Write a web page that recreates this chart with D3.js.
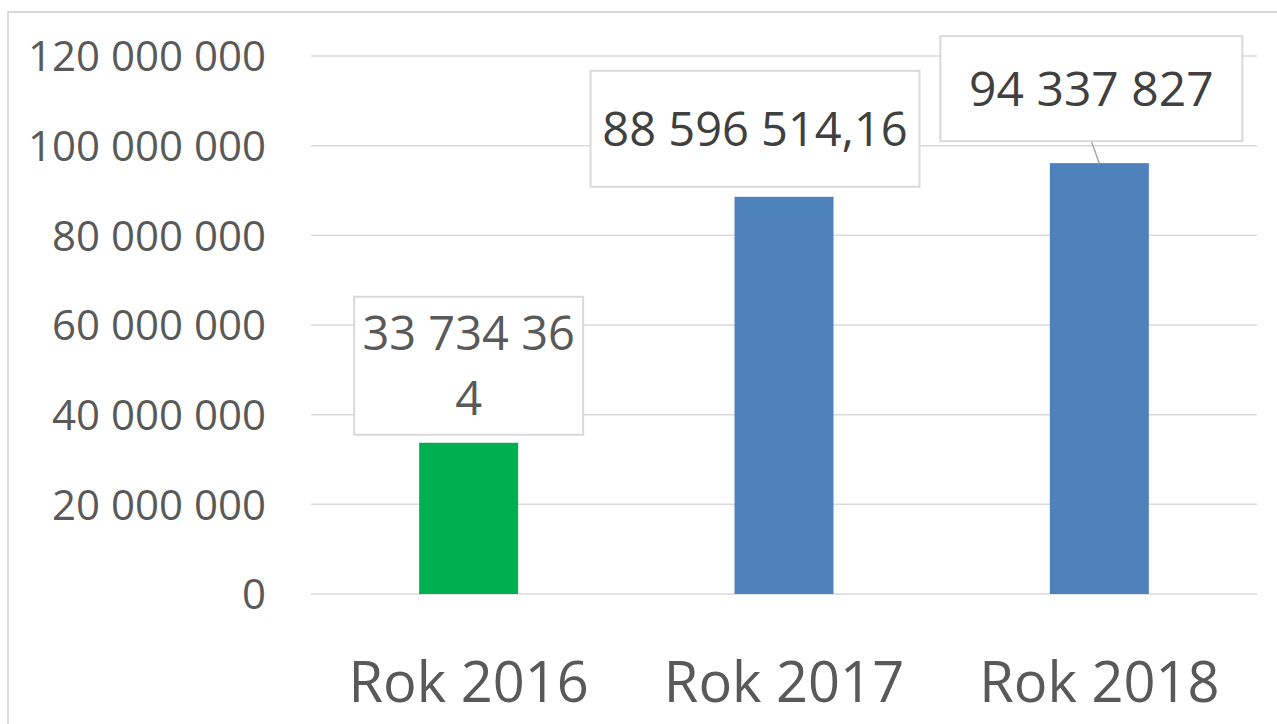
<!DOCTYPE html>
<html>
<head>
<meta charset="utf-8">
<script src="https://cdn.jsdelivr.net/npm/d3@7"></script>
<style>
  html, body { margin: 0; padding: 0; background: #fff; }
  svg { display: block; }
  text { font-family: "Open Sans", "Noto Sans", sans-serif; }
</style>
</head>
<body>
<script>
// ---- data ----
const categories = ["Rok 2016", "Rok 2017", "Rok 2018"];
const values = [33734364, 88596514.16, 96100000];
const labelLines = [["33 734 36", "4"], ["88 596 514,16"], ["94 337 827"]];
const barColors = ["#00B050", "#4F81BD", "#4F81BD"];
const yTicks = [0, 20000000, 40000000, 60000000, 80000000, 100000000, 120000000];
const yTickLabels = ["0", "20 000 000", "40 000 000", "60 000 000", "80 000 000", "100 000 000", "120 000 000"];

// ---- layout ----
const W = 1277, H = 724;
const plot = { left: 311, right: 1257, top: 56, bottom: 594 };

const svg = d3.select("body").append("svg").attr("width", W).attr("height", H);

// chart border (only left and top visible)
svg.append("rect")
  .attr("x", 8).attr("y", 12).attr("width", 1400).attr("height", 900)
  .attr("fill", "none").attr("stroke", "#d9d9d9").attr("stroke-width", 2);

const x = d3.scaleBand().domain(categories)
  .range([plot.left, plot.right]).paddingInner(0.686).paddingOuter(0.343);
const y = d3.scaleLinear().domain([0, 120000000]).range([plot.bottom, plot.top]);

// gridlines
svg.append("g").selectAll("line").data(yTicks).join("line")
  .attr("x1", plot.left).attr("x2", plot.right)
  .attr("y1", d => y(d)).attr("y2", d => y(d))
  .attr("stroke", "#d9d9d9").attr("stroke-width", 1.5);

// y axis labels
const yAxis = d3.axisLeft(y).tickValues(yTicks)
  .tickFormat((d, i) => yTickLabels[i]).tickSize(0).tickPadding(0);
const gy = svg.append("g").attr("transform", "translate(266,0)").call(yAxis);
gy.select(".domain").remove();
gy.selectAll("text")
  .attr("font-size", 42).attr("fill", "#595959")
  .attr("font-family", "'Open Sans', sans-serif")
  .attr("dy", "0.35em");

// x axis labels
const xAxis = d3.axisBottom(x).tickSize(0).tickPadding(0);
const gx = svg.append("g").attr("transform", `translate(0,${plot.bottom})`).call(xAxis);
gx.select(".domain").remove();
gx.selectAll("text")
  .attr("font-size", 56).attr("fill", "#595959")
  .attr("font-family", "'Open Sans', sans-serif")
  .attr("y", 108).attr("dy", 0);

// bars
svg.append("g").selectAll("rect").data(categories).join("rect")
  .attr("x", d => x(d)).attr("width", x.bandwidth())
  .attr("y", (d, i) => y(values[i]))
  .attr("height", (d, i) => y(0) - y(values[i]))
  .attr("fill", (d, i) => barColors[i]);

// data label boxes (style/offsets relative to each bar)
const boxStyle = [
  { w: 229, h: 138, dx: 0, gap: 8, size: 47, color: "#595959", lh: 65 },
  { w: 329, h: 116, dx: -29, gap: 10, size: 47, color: "#404040", lh: 0 },
  { w: 302, h: 105, dx: -8, gap: 22, size: 48, color: "#404040", lh: 0 }
];

const lbl = svg.append("g");
categories.forEach((c, i) => {
  const s = boxStyle[i];
  const cx = x(c) + x.bandwidth() / 2;
  const top = y(values[i]);
  const bx = cx + s.dx;
  const bBottom = top - s.gap;
  const bTop = bBottom - s.h;
  if (i === 2) {
    lbl.append("line")
      .attr("x1", bx).attr("y1", bBottom)
      .attr("x2", cx).attr("y2", top)
      .attr("stroke", "#a6a6a6").attr("stroke-width", 1.5);
  }
  lbl.append("rect")
    .attr("x", bx - s.w / 2).attr("y", bTop)
    .attr("width", s.w).attr("height", s.h)
    .attr("fill", "#fff").attr("stroke", "#d9d9d9").attr("stroke-width", 2);
  const lines = labelLines[i];
  const n = lines.length;
  const centerY = bTop + s.h / 2;
  const t = lbl.append("text")
    .attr("text-anchor", "middle")
    .attr("font-size", s.size).attr("fill", s.color);
  lines.forEach((ln, j) => {
    const offset = (j - (n - 1) / 2) * s.lh;
    t.append("tspan").attr("x", bx)
      .attr("y", centerY + offset).attr("dy", "0.36em").text(ln);
  });
});
</script>
</body>
</html>
